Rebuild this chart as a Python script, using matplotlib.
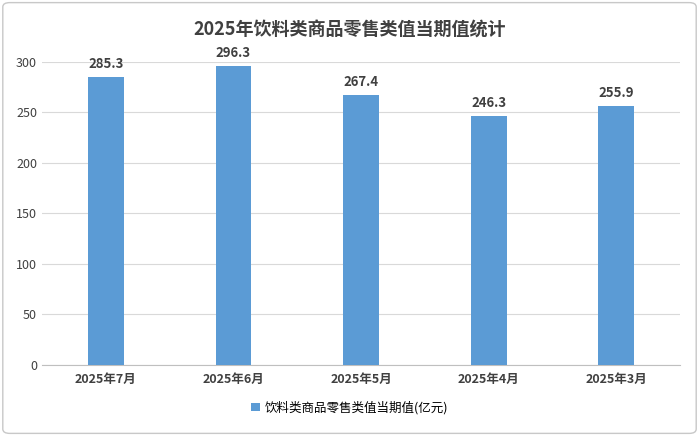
import matplotlib
matplotlib.use("Agg")
import matplotlib.pyplot as plt
from matplotlib.patches import FancyBboxPatch

plt.rcParams['font.family'] = ['Noto Sans CJK SC', 'DejaVu Sans']

categories = ["2025年7月", "2025年6月", "2025年5月", "2025年4月", "2025年3月"]
values = [285.3, 296.3, 267.4, 246.3, 255.9]
series_name = "饮料类商品零售类值当期值(亿元)"
title = "2025年饮料类商品零售类值当期值统计"

fig = plt.figure(figsize=(6.99, 4.36), dpi=100)
fig.patches.append(FancyBboxPatch((0.004, 0.006), 0.992, 0.988, boxstyle="round,pad=0,rounding_size=0.01",
                                  transform=fig.transFigure, fill=False, ec="#c8c8c8", lw=1))
ax = fig.add_axes([0.060, 0.163, 0.913, 0.695])
x = range(len(categories))
bars = ax.bar(x, values, width=0.28, color="#5B9BD5", label=series_name, zorder=3)
for xi, v in zip(x, values):
    ax.text(xi, v + 6, f"{v:.1f}", ha="center", va="bottom", fontsize=9.5, fontweight="bold", color="#404040")
ax.set_xlim(-0.5, 4.5)
ax.set_ylim(0, 300)
ax.set_yticks(range(0, 301, 50))
ax.set_xticks(list(x))
ax.set_xticklabels(categories, fontsize=9, fontweight="bold", color="#404040")
ax.tick_params(axis="y", labelsize=9, colors="#404040", length=0)
ax.tick_params(axis="x", length=0, pad=6)
ax.grid(axis="y", color="#d9d9d9", lw=0.8, zorder=0)
for s in ["top", "right", "left"]:
    ax.spines[s].set_visible(False)
ax.spines["bottom"].set_color("#bfbfbf")
fig.text(0.5, 0.93, title, ha="center", va="center", fontsize=13, fontweight="bold", color="#404040")
fig.legend(handles=[bars], labels=[series_name], loc="center", bbox_to_anchor=(0.5, 0.065),
           frameon=False, fontsize=9, handlelength=0.7, handleheight=0.7, handletextpad=0.4)
fig.savefig("out.png", dpi=100)
